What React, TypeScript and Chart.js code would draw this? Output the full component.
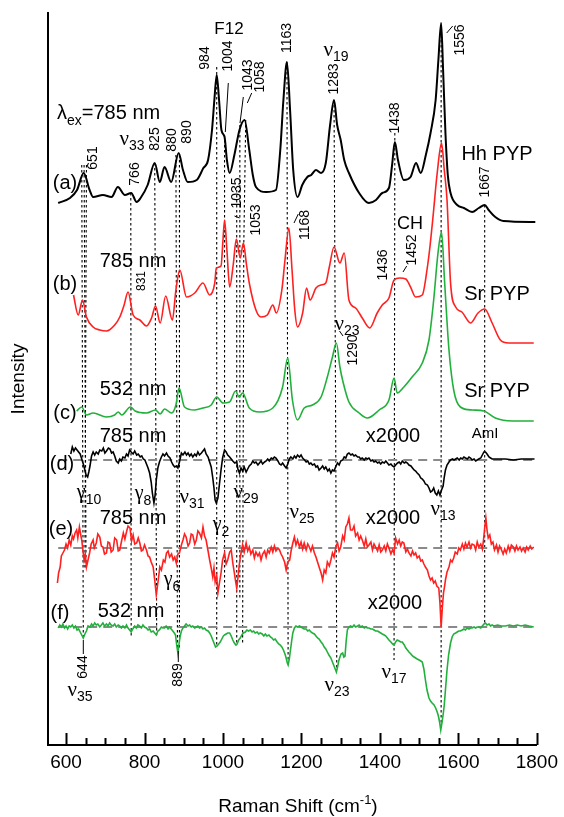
import React, { useEffect, useRef } from "react";
import { Chart, registerables } from "chart.js";
Chart.register(...registerables);

type P = [number, number];
const SANS = '"Liberation Sans", Arial, Helvetica, sans-serif';
const SERIF = '"Liberation Serif", "DejaVu Serif", serif';

const X_MIN = 554;
const X_MAX = 1800;
const Y_MAX = 732;
const X_LABELS = [600, 800, 1000, 1200, 1400, 1600, 1800];
const MINOR_STEP = 50;

// (a) Hh PYP, 785 nm : [Raman shift, relative intensity]
const HH_785: P[] = [
  [580, 19], [610, 24], [628, 32], [645, 49], [660, 32], [669, 25], [694, 27], [716, 25], [732, 35], [750, 27],
  [766, 29], [780, 20], [790, 24], [808, 37], [826, 59], [839, 40], [851, 55], [868, 40], [887, 69], [898, 52],
  [910, 40], [933, 42], [950, 54], [962, 62], [972, 92], [978, 122], [984, 147], [990, 122], [996, 92], [1004, 85],
  [1010, 62], [1017, 49], [1029, 67], [1042, 92], [1055, 102], [1067, 72], [1076, 47], [1084, 35], [1110, 30], [1135, 32],
  [1146, 72], [1154, 122], [1163, 160], [1171, 112], [1179, 52], [1190, 25], [1202, 37], [1215, 45], [1225, 47], [1237, 52],
  [1250, 49], [1262, 59], [1273, 97], [1283, 122], [1291, 97], [1300, 82], [1309, 62], [1321, 49], [1347, 29], [1372, 19],
  [1390, 22], [1406, 29], [1423, 34], [1431, 57], [1438, 80], [1446, 62], [1461, 42], [1478, 45], [1492, 59], [1504, 49],
  [1517, 67], [1529, 89], [1542, 122], [1549, 162], [1556, 199], [1561, 152], [1567, 89], [1573, 47], [1580, 29], [1597, 17],
  [1614, 14], [1635, 10], [1652, 14], [1667, 17], [1677, 12], [1694, 5], [1715, 1], [1796, 0],
];

// (b) Sr PYP, 785 nm
const SR_785: P[] = [
  [619, 48], [631, 28], [642, 43], [652, 26], [669, 16], [686, 13], [703, 12], [724, 18], [737, 26], [748, 38],
  [758, 51], [771, 28], [788, 23], [805, 17], [818, 25], [828, 37], [840, 20], [854, 47], [871, 23], [880, 53],
  [890, 73], [907, 46], [928, 50], [949, 60], [966, 48], [979, 60], [983, 75], [995, 77], [1000, 103], [1004, 123],
  [1010, 93], [1017, 56], [1026, 78], [1034, 104], [1044, 85], [1052, 100], [1060, 78], [1067, 60], [1084, 33], [1097, 26],
  [1113, 28], [1127, 38], [1136, 30], [1150, 53], [1158, 83], [1168, 115], [1176, 73], [1183, 33], [1190, 16], [1203, 30],
  [1213, 55], [1222, 43], [1237, 55], [1250, 58], [1262, 60], [1271, 76], [1283, 96], [1298, 80], [1309, 90], [1321, 43],
  [1338, 35], [1355, 25], [1374, 15], [1393, 30], [1406, 38], [1423, 45], [1436, 63], [1450, 65], [1466, 64], [1478, 56],
  [1491, 46], [1508, 48], [1521, 76], [1528, 98], [1535, 125], [1546, 170], [1557, 200], [1564, 173], [1571, 143], [1580, 60],
  [1593, 36], [1609, 31], [1631, 20], [1650, 30], [1667, 34], [1686, 20], [1707, 3], [1728, 0], [1792, 0],
];

// (c) Sr PYP, 532 nm
const SR_532: P[] = [
  [627, 10], [640, 14], [652, 6], [669, 8], [703, 4], [724, 6], [733, 9], [742, 6], [764, 14], [776, 10],
  [805, 8], [828, 11], [840, 7], [851, 12], [869, 8], [880, 16], [888, 33], [902, 14], [928, 11], [949, 13],
  [970, 16], [984, 24], [1000, 18], [1017, 19], [1032, 30], [1041, 24], [1050, 28], [1067, 13], [1093, 9], [1127, 13],
  [1152, 34], [1165, 63], [1177, 21], [1190, 1], [1207, 13], [1228, 16], [1250, 24], [1266, 44], [1279, 64], [1289, 78],
  [1298, 54], [1306, 39], [1321, 19], [1347, 8], [1368, 3], [1398, 11], [1423, 21], [1436, 43], [1444, 28], [1461, 34],
  [1482, 44], [1508, 58], [1525, 81], [1537, 121], [1548, 168], [1557, 189], [1565, 138], [1576, 71], [1588, 31], [1605, 14],
  [1635, 11], [1665, 10], [1694, 3], [1737, 0], [1792, 0],
];

// (d) difference, 785 nm, x2000
const DIFF_785A: P[] = [
  [612, 6], [616, 13], [620, 9], [624, 12], [628, 10], [632, 8], [636, 6], [640, 1], [644, -4], [648, -10], [651, -15], [655, -17],
  [658, -12], [661, -6], [665, 4], [669, 8], [673, 5], [677, 8], [682, 6], [686, 10], [691, 9], [695, 12], [699, 7], [703, 9],
  [708, 12], [712, 11], [716, 7], [720, 8], [724, 4], [728, -1], [733, -3], [737, 1], [741, -1], [745, 3], [750, 2], [754, 6],
  [758, 4], [762, 10], [766, 8], [771, 6], [775, 9], [780, 5], [784, 6], [789, 3], [793, 4], [797, 1], [801, 0], [805, -4],
  [809, -8], [813, -13], [817, -22], [820, -33], [824, -43], [827, -35], [830, -20], [834, -8], [838, -2], [843, 3], [847, 6], [851, 4],
  [856, 7], [860, 4], [865, 2], [869, -2], [873, -5], [877, -7], [881, -6], [885, -8], [889, -2], [894, 7], [898, 5], [903, 8],
  [907, 5], [911, 7], [915, 4], [919, 6], [923, 3], [928, 6], [932, 4], [936, 8], [940, 5], [945, 7], [949, 9], [953, 11],
  [957, 6], [962, 3], [966, -2], [970, -7], [974, -18], [977, -28], [980, -40], [983, -43], [987, -38], [991, -24], [995, -10], [999, 2],
  [1004, 10], [1008, 8], [1012, 5], [1017, 3], [1021, 1], [1025, -1], [1030, -3], [1035, -2], [1038, -9], [1042, -13], [1046, -8], [1050, -11],
  [1054, -7], [1059, -12], [1063, -9], [1067, -6], [1072, -4], [1076, -1], [1080, -3], [1084, -2], [1089, -5], [1093, -3], [1097, -1], [1101, -4],
  [1106, -2], [1110, -1], [1114, 1], [1118, -1], [1123, 2], [1127, 1], [1131, 3], [1135, 2], [1140, -1], [1144, -4], [1148, -5], [1152, -3],
  [1157, -6], [1161, -8], [1165, -4], [1169, 1], [1173, 3], [1178, 1], [1182, 4], [1186, 2], [1190, 5], [1195, 3], [1199, 5], [1203, 2],
  [1208, 0], [1212, -2], [1216, -1], [1220, -4], [1224, -3], [1228, -5], [1233, -4], [1237, -7], [1241, -6], [1245, -10], [1250, -8], [1254, -6],
  [1258, -9], [1262, -7], [1267, -11], [1271, -9], [1275, -13], [1279, -10], [1283, -11], [1288, -6], [1292, -3], [1296, -5], [1300, -1], [1305, 0],
  [1309, 3], [1313, 2], [1317, 6], [1321, 7], [1326, 5], [1330, 6], [1334, 4], [1338, 5], [1343, 3], [1347, 3], [1351, 1], [1355, 2],
  [1360, 0], [1364, 2], [1368, 1], [1372, 2], [1377, -1], [1381, 0], [1385, -2], [1389, -1], [1394, -3], [1398, -2], [1402, -4], [1406, -2],
  [1411, -3], [1415, -1], [1419, -3], [1423, -5], [1428, -4], [1432, -6], [1436, -7], [1440, -5], [1445, -3], [1449, -2], [1453, -4], [1457, -1],
  [1462, -3], [1466, -2], [1470, -3], [1474, -5], [1479, -6], [1483, -8], [1487, -10], [1491, -11], [1495, -13], [1500, -15], [1504, -18], [1508, -19],
  [1512, -21], [1516, -24], [1521, -25], [1525, -28], [1529, -32], [1533, -31], [1537, -28], [1541, -33], [1545, -35], [1549, -31], [1553, -35], [1557, -30],
  [1561, -26], [1564, -17], [1567, -10], [1571, -5], [1576, -2], [1580, 0], [1585, 1], [1589, 0], [1593, 1], [1597, 2], [1602, 0], [1606, 2],
  [1610, 1], [1614, 3], [1618, 2], [1623, 1], [1627, 3], [1631, 2], [1635, 0], [1640, 1], [1644, -1], [1648, 0], [1652, 1], [1657, 2],
  [1661, 5], [1665, 8], [1669, 8], [1673, 6], [1678, 3], [1682, 2], [1686, 1], [1700, 1], [1720, 1], [1740, 0], [1760, 1], [1780, 1], [1794, 1],
];

// (e) difference, 785 nm, x2000
const DIFF_785B: P[] = [
  [578, -35], [581, -25], [585, -19], [588, -8], [592, -5], [596, -2], [600, 4], [604, 0], [608, 8], [612, 3], [616, 12], [619, 9],
  [623, 15], [627, 18], [630, 10], [634, 21], [637, 14], [640, 8], [643, -2], [646, -12], [649, -6], [652, -19], [656, -12], [660, -5],
  [664, 4], [669, 8], [672, 0], [677, 5], [681, 14], [686, 11], [690, 2], [694, 1], [698, -6], [703, -5], [707, 6], [711, 5],
  [715, -4], [720, -2], [724, 10], [729, 8], [733, -3], [737, -2], [741, 6], [746, 15], [750, 9], [754, 16], [758, 22], [763, 20],
  [767, 7], [771, 13], [775, 4], [780, 5], [784, 10], [788, 5], [792, -3], [796, -2], [800, 3], [805, -2], [809, -8], [813, -9],
  [817, -14], [822, -19], [826, -32], [830, -47], [833, -38], [835, -32], [839, -19], [843, -22], [848, -12], [852, -14], [856, -5], [860, -3],
  [864, -9], [869, -6], [873, -12], [877, -9], [881, -15], [885, -6], [889, -5], [894, 3], [898, 8], [902, 14], [906, 11], [911, 2],
  [915, 5], [919, 14], [923, 13], [928, 4], [932, 8], [936, 17], [940, 15], [945, 10], [949, 21], [953, 12], [957, 8], [962, -3],
  [966, -12], [970, -20], [974, -29], [977, -20], [980, -34], [984, -28], [987, -45], [991, -35], [995, -25], [999, -12], [1004, -5], [1008, -16],
  [1012, -12], [1017, -4], [1021, -2], [1025, -15], [1029, -25], [1032, -33], [1035, -40], [1038, -30], [1042, -15], [1046, -5], [1050, 3], [1054, -4],
  [1059, 5], [1063, -3], [1067, 1], [1071, -6], [1076, -2], [1080, -10], [1084, -4], [1089, -8], [1093, -5], [1097, -12], [1101, -6], [1106, -3],
  [1110, -9], [1114, -2], [1118, -5], [1123, 1], [1127, -4], [1131, 2], [1135, -3], [1140, 0], [1144, -2], [1148, -6], [1152, -9], [1157, -14],
  [1161, -22], [1165, -14], [1170, -12], [1174, -2], [1178, 5], [1182, 11], [1186, 3], [1190, 8], [1195, 1], [1199, 6], [1203, -1], [1207, 5],
  [1212, -2], [1216, 4], [1220, 1], [1224, -3], [1228, 2], [1233, -5], [1237, -9], [1241, -14], [1245, -19], [1250, -25], [1254, -32], [1258, -22],
  [1262, -25], [1266, -14], [1271, -18], [1275, -12], [1279, -5], [1283, -9], [1288, 2], [1292, 5], [1296, -3], [1300, 1], [1305, 12], [1309, 8],
  [1313, 21], [1317, 24], [1321, 30], [1325, 18], [1330, 18], [1334, 22], [1338, 12], [1343, 15], [1347, 8], [1351, 12], [1355, 8], [1360, 2],
  [1364, 9], [1368, 1], [1372, 3], [1377, 6], [1381, -2], [1385, 4], [1389, 1], [1394, -3], [1398, 3], [1402, -4], [1406, -2], [1411, 2],
  [1415, -3], [1419, 4], [1423, 0], [1428, -6], [1432, -2], [1436, -5], [1440, 10], [1445, 4], [1449, 8], [1453, 2], [1457, 6], [1461, 5],
  [1466, -4], [1470, -1], [1474, -5], [1479, -8], [1483, -3], [1487, -7], [1491, -5], [1495, -10], [1500, -8], [1504, -13], [1508, -12], [1512, -16],
  [1516, -19], [1521, -22], [1525, -28], [1529, -32], [1533, -30], [1537, -35], [1541, -33], [1545, -38], [1550, -40], [1553, -55], [1556, -79], [1559, -60],
  [1562, -45], [1565, -38], [1567, -32], [1571, -24], [1576, -19], [1580, -12], [1584, -14], [1588, -10], [1592, -4], [1597, -6], [1601, 0], [1605, -2],
  [1610, 4], [1614, -1], [1618, 5], [1622, 1], [1627, 6], [1631, 0], [1635, 4], [1640, 3], [1644, -2], [1648, 6], [1652, 1], [1657, 4],
  [1661, -1], [1664, 8], [1667, 20], [1670, 30], [1673, 18], [1676, 10], [1680, 13], [1684, 4], [1688, 6], [1692, -2], [1697, 3], [1701, -4],
  [1705, 2], [1710, -2], [1714, -6], [1718, -1], [1722, -5], [1727, 2], [1731, -3], [1735, 3], [1740, 1], [1744, -3], [1748, 2], [1752, -2],
  [1757, 1], [1761, -3], [1765, 0], [1770, -4], [1774, 1], [1778, -2], [1783, 2], [1787, -1], [1792, 1],
];

// (f) difference, 532 nm, x2000
const DIFF_532: P[] = [
  [580, -1], [584, 2], [588, 0], [592, 3], [596, -1], [600, 1], [604, -2], [608, 1], [612, 0], [616, 2], [620, -1], [624, 1],
  [628, -3], [632, -2], [636, -5], [640, -8], [644, -11], [648, -7], [652, -4], [656, 1], [661, 0], [665, 3], [669, 1], [673, 4],
  [677, 2], [681, 3], [686, 0], [690, 2], [694, 4], [698, 1], [703, 3], [707, 1], [711, 4], [715, 2], [720, 1], [724, 3],
  [728, 0], [733, 2], [737, 1], [741, -1], [745, 1], [750, -1], [754, 2], [758, -1], [762, -3], [766, -5], [770, -2], [775, 1],
  [779, -1], [783, 2], [787, 1], [792, -1], [796, 2], [800, 0], [805, -1], [809, -3], [813, -2], [817, -5], [822, -4], [826, -6],
  [830, -8], [834, -4], [838, -3], [843, 0], [847, -1], [851, -1], [855, 1], [860, -2], [864, 0], [868, -2], [872, -4], [876, -6],
  [879, -8], [882, -18], [885, -26], [888, -17], [891, -9], [894, -4], [898, -1], [902, 1], [906, 3], [911, 1], [915, 2], [919, 0],
  [923, 1], [928, -1], [932, 0], [936, 1], [940, -1], [945, 0], [949, -2], [953, -1], [957, -3], [962, -4], [966, -6], [970, -9],
  [974, -13], [978, -17], [981, -20], [985, -19], [989, -17], [993, -15], [997, -12], [1001, -9], [1004, -8], [1008, -7], [1012, -6], [1017, -6],
  [1021, -9], [1025, -13], [1029, -16], [1033, -18], [1036, -17], [1040, -13], [1044, -11], [1048, -8], [1052, -6], [1057, -5], [1061, -3], [1065, -4],
  [1070, -3], [1074, -5], [1078, -4], [1082, -6], [1087, -5], [1091, -7], [1095, -6], [1100, -7], [1104, -9], [1108, -7], [1112, -9], [1117, -8],
  [1121, -10], [1125, -11], [1129, -13], [1133, -12], [1138, -15], [1142, -17], [1146, -18], [1150, -20], [1154, -23], [1158, -27], [1161, -31], [1164, -36],
  [1166, -38], [1169, -32], [1172, -23], [1175, -14], [1178, -6], [1182, -1], [1186, 1], [1190, 0], [1195, 1], [1199, 0], [1203, -1], [1207, -2],
  [1212, -2], [1216, -4], [1220, -3], [1224, -5], [1228, -6], [1233, -7], [1237, -9], [1241, -11], [1245, -12], [1250, -15], [1254, -17], [1258, -20],
  [1262, -22], [1266, -25], [1270, -28], [1275, -31], [1279, -35], [1283, -39], [1286, -42], [1289, -45], [1292, -40], [1295, -34], [1298, -30], [1301, -27],
  [1305, -26], [1308, -30], [1311, -29], [1314, -14], [1317, -3], [1321, 0], [1325, 1], [1330, 0], [1334, 2], [1338, 0], [1343, 1], [1347, 2],
  [1351, 0], [1355, 1], [1360, -1], [1364, 0], [1368, -1], [1372, -1], [1377, -2], [1381, -2], [1385, -3], [1389, -4], [1394, -4], [1398, -5],
  [1402, -6], [1406, -7], [1411, -8], [1415, -9], [1419, -11], [1423, -13], [1428, -15], [1432, -17], [1436, -18], [1440, -15], [1444, -13], [1449, -14],
  [1453, -15], [1457, -15], [1462, -18], [1466, -21], [1470, -23], [1474, -25], [1479, -27], [1483, -29], [1487, -30], [1491, -31], [1495, -32], [1500, -33],
  [1504, -34], [1508, -35], [1512, -42], [1516, -53], [1520, -63], [1525, -71], [1529, -74], [1533, -76], [1538, -78], [1542, -81], [1546, -85], [1549, -89],
  [1552, -95], [1555, -103], [1558, -96], [1561, -88], [1564, -78], [1567, -63], [1571, -43], [1575, -28], [1580, -16], [1584, -10], [1588, -7], [1593, -6],
  [1597, -5], [1601, -4], [1605, -4], [1610, -3], [1614, -2], [1618, -3], [1622, -1], [1627, -2], [1631, -1], [1635, -1], [1640, 0], [1644, -1],
  [1648, 0], [1652, 0], [1657, -1], [1661, 1], [1665, 3], [1669, 4], [1673, 2], [1678, 3], [1682, 1], [1686, 2], [1690, 1], [1700, 2],
  [1710, 1], [1720, 1], [1730, 2], [1740, 1], [1750, 2], [1760, 1], [1770, 2], [1780, 1], [1792, 0],
];

// vertical offsets of the stacked traces (same units as intensity)
const OFFSET_A = 523;
const OFFSET_B = 402;
const OFFSET_C = 324;
const OFFSET_D = 285;
const OFFSET_E = 197;
const OFFSET_F = 118;

// dotted band-assignment guides: [shift, level] polylines
const GUIDES: P[][] = [
  [[640, 580], [644, 105]],
  [[646, 580], [651, 175]],
  [[652, 580], [648, 175]],
  [[765, 552], [766, 108]],
  [[826, 582], [831, 110]],
  [[880, 590], [884, 95]],
  [[889, 590], [889, 95]],
  [[984, 678], [984, 100]],
  [[1004, 610], [1004, 145]],
  [[1035, 555], [1035, 100]],
  [[1043, 620], [1043, 145]],
  [[1058, 625], [1053, 500], [1050, 100]],
  [[1163, 683], [1166, 85]],
  [[1283, 645], [1286, 415], [1290, 75]],
  [[1438, 612], [1436, 85]],
  [[1556, 720], [1556, 18]],
  [[1667, 540], [1667, 122]],
];
const ZERO_LEVELS = [OFFSET_D, OFFSET_E, OFFSET_F];
const ZERO_FROM = 580;

const BLACK = "#000000";
const RED = "#ff2020";
const GREEN = "#22b03c";

type Seg = [string, "n" | "g" | "s" | "p"];
type Label = { segs: Seg[]; x: number; y: number; size: number; rot?: boolean; align?: "left" | "center" };

const LABELS: Label[] = [
  { segs: [["F12", "n"]], x: 229, y: 28, size: 17 },
  { segs: [["984", "n"]], x: 205.5, y: 58, size: 14, rot: true },
  { segs: [["1004", "n"]], x: 228.5, y: 56, size: 14, rot: true },
  { segs: [["1043", "n"]], x: 248.5, y: 75, size: 14, rot: true },
  { segs: [["1058", "n"]], x: 260, y: 77, size: 14, rot: true },
  { segs: [["1163", "n"]], x: 287, y: 38, size: 14, rot: true },
  { segs: [["ν", "g"], ["19", "s"]], x: 336, y: 48, size: 21 },
  { segs: [["1283", "n"]], x: 334.5, y: 79, size: 14, rot: true },
  { segs: [["1438", "n"]], x: 395.5, y: 118, size: 14, rot: true },
  { segs: [["1556", "n"]], x: 460, y: 40, size: 14, rot: true },
  { segs: [["Hh PYP", "n"]], x: 497, y: 153, size: 20 },
  { segs: [["1667", "n"]], x: 485, y: 182, size: 14, rot: true },
  { segs: [["λ", "n"], ["ex", "s"], ["=785 nm", "n"]], x: 57, y: 112, size: 20, align: "left" },
  { segs: [["ν", "g"], ["33", "s"]], x: 132, y: 137, size: 21 },
  { segs: [["825", "n"]], x: 155, y: 139, size: 14, rot: true },
  { segs: [["880", "n"]], x: 172, y: 140, size: 14, rot: true },
  { segs: [["890", "n"]], x: 187, y: 132, size: 14, rot: true },
  { segs: [["651", "n"]], x: 93.5, y: 158, size: 14, rot: true },
  { segs: [["766", "n"]], x: 135, y: 174, size: 14, rot: true },
  { segs: [["(a)", "n"]], x: 65, y: 182, size: 20 },
  { segs: [["1035", "n"]], x: 237, y: 193, size: 14, rot: true },
  { segs: [["1053", "n"]], x: 256, y: 220, size: 14, rot: true },
  { segs: [["1168", "n"]], x: 305, y: 225, size: 14, rot: true },
  { segs: [["785 nm", "n"]], x: 133, y: 260, size: 20 },
  { segs: [["831", "n"]], x: 141.5, y: 281, size: 12, rot: true },
  { segs: [["(b)", "n"]], x: 65, y: 283, size: 20 },
  { segs: [["1436", "n"]], x: 383.5, y: 265, size: 14, rot: true },
  { segs: [["1452", "n"]], x: 412, y: 250, size: 14, rot: true },
  { segs: [["CH", "n"]], x: 410, y: 223, size: 18 },
  { segs: [["Sr PYP", "n"]], x: 497, y: 293, size: 20 },
  { segs: [["ν", "g"], ["23", "s"]], x: 347, y: 322, size: 21 },
  { segs: [["1290", "n"]], x: 353, y: 350, size: 14, rot: true },
  { segs: [["Sr PYP", "n"]], x: 497, y: 390, size: 20 },
  { segs: [["532 nm", "n"]], x: 133, y: 388, size: 20 },
  { segs: [["(c)", "n"]], x: 65, y: 412, size: 20 },
  { segs: [["785 nm", "n"]], x: 133, y: 435, size: 20 },
  { segs: [["x2000", "n"]], x: 393, y: 435, size: 20 },
  { segs: [["AmI", "n"]], x: 485, y: 433, size: 15 },
  { segs: [["(d)", "n"]], x: 62, y: 463, size: 20 },
  { segs: [["γ", "g"], ["10", "s"]], x: 89, y: 491, size: 20 },
  { segs: [["γ", "g"], ["8", "s"]], x: 143, y: 492, size: 20 },
  { segs: [["ν", "g"], ["31", "s"]], x: 192, y: 495, size: 21 },
  { segs: [["ν", "g"], ["29", "s"]], x: 246, y: 490, size: 21 },
  { segs: [["γ", "g"], ["2", "s"]], x: 221, y: 523, size: 20 },
  { segs: [["ν", "g"], ["25", "s"]], x: 302, y: 510, size: 21 },
  { segs: [["ν", "g"], ["13", "s"]], x: 443, y: 507, size: 21 },
  { segs: [["785 nm", "n"]], x: 133, y: 517, size: 20 },
  { segs: [["x2000", "n"]], x: 393, y: 517, size: 20 },
  { segs: [["(e)", "n"]], x: 61, y: 528, size: 20 },
  { segs: [["γ", "g"], ["6", "s"]], x: 172, y: 578, size: 20 },
  { segs: [["532 nm", "n"]], x: 131, y: 610, size: 20 },
  { segs: [["x2000", "n"]], x: 395, y: 602, size: 20 },
  { segs: [["(f)", "n"]], x: 60, y: 612, size: 20 },
  { segs: [["644", "n"]], x: 83.5, y: 667, size: 14, rot: true },
  { segs: [["ν", "g"], ["35", "s"]], x: 80, y: 688, size: 21 },
  { segs: [["889", "n"]], x: 178, y: 675, size: 14, rot: true },
  { segs: [["ν", "g"], ["23", "s"]], x: 337, y: 683, size: 21 },
  { segs: [["ν", "g"], ["17", "s"]], x: 394, y: 670, size: 21 },
  { segs: [["Raman Shift (cm", "n"], ["-1", "p"], [")", "n"]], x: 298, y: 805, size: 19 },
];

// short leader strokes for the peak labels: [x1, y1, x2, y2]
const LEADERS: [number, number, number, number][] = [
  [228.3, 83, 225.3, 132],
  [243.3, 97, 240, 123],
  [251.7, 93, 247.3, 103],
  [452.7, 26, 446.7, 33],
  [298.3, 214, 294, 223],
  [406.7, 266, 403, 272],
  [343, 336, 339.5, 331],
  [234.5, 216, 239.5, 218],
  [83.3, 640, 83.3, 654],
  [178.3, 651, 178.3, 662],
];

function segFont(kind: string, size: number) {
  if (kind === "g") return `${size}px ${SERIF}`;
  if (kind === "s" || kind === "p") return `${Math.round(size * 0.68)}px ${SANS}`;
  return `${size}px ${SANS}`;
}

function drawRich(ctx: CanvasRenderingContext2D, l: Label) {
  ctx.save();
  ctx.fillStyle = "#000";
  if (l.rot) {
    ctx.translate(l.x, l.y);
    ctx.rotate(-Math.PI / 2);
    ctx.font = segFont("n", l.size);
    ctx.textAlign = "center";
    ctx.textBaseline = "middle";
    ctx.fillText(l.segs.map((s) => s[0]).join(""), 0, 0);
    ctx.restore();
    return;
  }
  let total = 0;
  const widths = l.segs.map(([t, k]) => {
    ctx.font = segFont(k, l.size);
    const w = ctx.measureText(t).width;
    total += w;
    return w;
  });
  let x = l.align === "left" ? l.x : l.x - total / 2;
  const base = l.y + l.size * 0.36;
  ctx.textAlign = "left";
  ctx.textBaseline = "alphabetic";
  l.segs.forEach(([t, k], i) => {
    ctx.font = segFont(k, l.size);
    let y = base;
    if (k === "s") y = base + l.size * 0.28;
    if (k === "p") y = base - l.size * 0.42;
    ctx.fillText(t, x, y);
    x += widths[i];
  });
  ctx.restore();
}

const decorPlugin = {
  id: "decor",
  afterDraw(chart: any) {
    const { ctx, chartArea } = chart;
    const xs = chart.scales.x;
    ctx.save();
    ctx.strokeStyle = "#000";
    ctx.lineWidth = 2;
    for (let v = X_LABELS[0]; v <= X_MAX; v += MINOR_STEP) {
      const px = Math.round(xs.getPixelForValue(v)) + 0.5;
      const len = X_LABELS.includes(v) ? 12 : 7;
      ctx.beginPath();
      ctx.moveTo(px, chartArea.bottom);
      ctx.lineTo(px, chartArea.bottom - len);
      ctx.stroke();
    }
    ctx.lineWidth = 1;
    LEADERS.forEach(([x1, y1, x2, y2]) => {
      ctx.beginPath();
      ctx.moveTo(x1, y1);
      ctx.lineTo(x2, y2);
      ctx.stroke();
    });
    ctx.restore();
    LABELS.forEach((l) => drawRich(ctx, l));
  },
};

function trace(points: P[], offset: number, color: string, width: number, smooth: boolean) {
  return {
    data: points.map(([x, y]) => ({ x, y: y + offset })),
    borderColor: color,
    borderWidth: width,
    pointRadius: 0,
    fill: false,
    cubicInterpolationMode: smooth ? ("monotone" as const) : ("default" as const),
    tension: 0,
    order: 0,
  };
}

export default function App() {
  const ref = useRef<HTMLCanvasElement | null>(null);
  useEffect(() => {
    if (!ref.current) return;
    const datasets: any[] = [];
    GUIDES.forEach((g) =>
      datasets.push({
        data: g.map(([x, y]) => ({ x, y })),
        borderColor: "#000",
        borderWidth: 1.1,
        borderDash: [2.5, 2.5],
        pointRadius: 0,
        fill: false,
        order: 2,
      })
    );
    ZERO_LEVELS.forEach((lvl) =>
      datasets.push({
        data: [
          { x: ZERO_FROM, y: lvl },
          { x: X_MAX, y: lvl },
        ],
        borderColor: "#8a8a8a",
        borderWidth: 2,
        borderDash: [9, 6],
        pointRadius: 0,
        fill: false,
        order: 1,
      })
    );
    datasets.push(trace(HH_785, OFFSET_A, BLACK, 2, true));
    datasets.push(trace(SR_785, OFFSET_B, RED, 1.6, true));
    datasets.push(trace(SR_532, OFFSET_C, GREEN, 1.6, true));
    datasets.push(trace(DIFF_785A, OFFSET_D, BLACK, 1.6, false));
    datasets.push(trace(DIFF_785B, OFFSET_E, RED, 1.6, false));
    datasets.push(trace(DIFF_532, OFFSET_F, GREEN, 1.6, false));

    const chart = new Chart(ref.current, {
      type: "line",
      data: { datasets },
      options: {
        animation: false,
        responsive: false,
        devicePixelRatio: 1,
        layout: { padding: { left: 0, top: 13, right: 26, bottom: 0 } },
        plugins: { legend: { display: false }, tooltip: { enabled: false } },
        scales: {
          x: {
            type: "linear",
            min: X_MIN,
            max: X_MAX,
            afterBuildTicks: (s: any) => {
              s.ticks = X_LABELS.map((v) => ({ value: v }));
            },
            afterFit: (s: any) => {
              s.height = 72;
            },
            ticks: {
              autoSkip: false,
              maxRotation: 0,
              padding: 6,
              color: "#000",
              font: { family: SANS, size: 19 },
              callback: (v: any) => String(v),
            },
            grid: { display: true, drawOnChartArea: false, drawTicks: false },
            border: { display: true, color: "#000", width: 2 },
          },
          y: {
            type: "linear",
            min: 0,
            max: Y_MAX,
            afterFit: (s: any) => {
              s.width = 48;
            },
            ticks: { display: false },
            grid: { display: true, drawOnChartArea: false, drawTicks: false },
            border: { display: true, color: "#000", width: 2 },
            title: {
              display: true,
              text: "Intensity",
              color: "#000",
              font: { family: SANS, size: 19 },
              padding: { top: 7, bottom: 0 },
            },
          },
        },
      },
      plugins: [decorPlugin],
    } as any);
    return () => chart.destroy();
  }, []);
  return (
    <div style={{ position: "absolute", left: 0, top: 0, width: 564, height: 817 }}>
      <canvas ref={ref} width={564} height={817} style={{ width: 564, height: 817, display: "block" }} />
    </div>
  );
}
